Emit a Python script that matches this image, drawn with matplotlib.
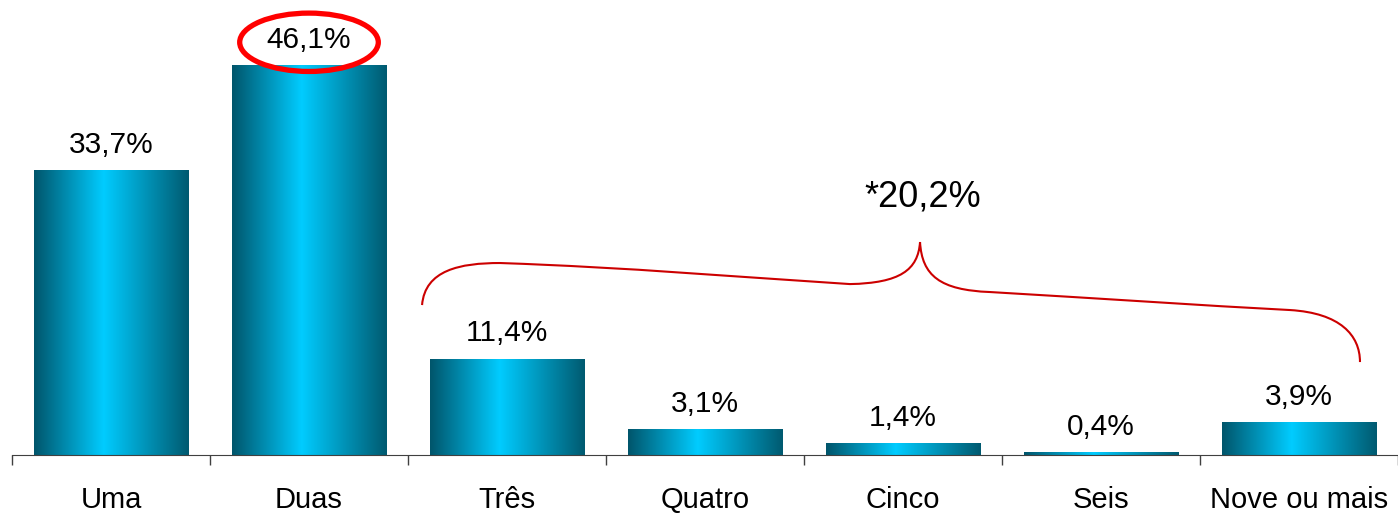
import numpy as np
import matplotlib.pyplot as plt
from matplotlib.colors import LinearSegmentedColormap
from matplotlib.patches import Ellipse, PathPatch
from matplotlib.path import Path

# Data
categories = ['Uma', 'Duas', 'Três', 'Quatro', 'Cinco', 'Seis', 'Nove ou mais']
values = [33.7, 46.1, 11.4, 3.1, 1.4, 0.4, 3.9]
labels = ['33,7%', '46,1%', '11,4%', '3,1%', '1,4%', '0,4%', '3,9%']
group_label = '*20,2%'

plt.rcParams['font.family'] = ['Liberation Sans', 'DejaVu Sans']

fig = plt.figure(figsize=(13.98, 5.14), dpi=100)
ax = fig.add_axes([12 / 1398, 59 / 514, 1386 / 1398, 455 / 514])
ax.set_xlim(-0.5, 6.5)
ax.set_ylim(0, 53.8)

# gradient for the bars: dark teal at the edges, bright cyan in the middle
cmap = LinearSegmentedColormap.from_list(
    'bar', [(0, '#00556b'), (0.45, '#00ccff'), (1, '#005a70')])
grad = np.linspace(0, 1, 256).reshape(1, -1)

width = 0.78
bars = ax.bar(range(len(values)), values, width=width, color='none', zorder=2)
for b, lab in zip(bars, labels):
    x0, y0 = b.get_x(), b.get_y()
    im = ax.imshow(grad, cmap=cmap, aspect='auto', zorder=1,
                   extent=[x0, x0 + b.get_width(), y0, y0 + b.get_height()])
    im.set_clip_path(b)
    ax.annotate(lab, (x0 + b.get_width() / 2, b.get_height()),
                xytext=(0, 8), textcoords='offset points',
                ha='center', va='bottom', fontsize=21.5)

# red ellipse around the highest value
ax.add_patch(Ellipse((1, values[1] + 2.7), 0.70, 6.9, fill=False,
                     edgecolor='#ff0000', lw=3.8, clip_on=False, zorder=3))

# curly brace over the last five categories
verts = [(1.571, 17.73), (1.586, 21.87), (1.763, 22.70), (1.965, 22.70),
         (2.6, 22.2), (3.2, 21.0), (3.732, 20.21),
         (3.985, 20.33), (4.076, 21.87), (4.086, 25.18),
         (4.096, 21.2), (4.187, 19.50), (4.439, 19.27),
         (5.0, 18.5), (5.5, 17.7), (5.955, 17.14),
         (6.207, 16.78), (6.308, 14.18), (6.308, 10.99)]
codes = [Path.MOVETO] + [Path.CURVE4] * (len(verts) - 1)
ax.add_patch(PathPatch(Path(verts, codes), fill=False, edgecolor='#cc0000',
                       lw=1.5, clip_on=False, zorder=3))
ax.text(4.1, 30.5, group_label, ha='center', va='center', fontsize=26)

# axes styling
for s in ['top', 'right', 'left']:
    ax.spines[s].set_visible(False)
ax.spines['bottom'].set_color('#404040')
ax.set_yticks([])
ax.set_xticks(range(len(categories)))
ax.set_xticklabels(categories, fontsize=21)
ax.set_xticks(np.arange(-0.5, 7, 1), minor=True)
ax.tick_params(axis='x', which='major', length=0, pad=22)
ax.tick_params(axis='x', which='minor', length=7, color='#404040', width=1)

fig.savefig('out.png', dpi=100)
